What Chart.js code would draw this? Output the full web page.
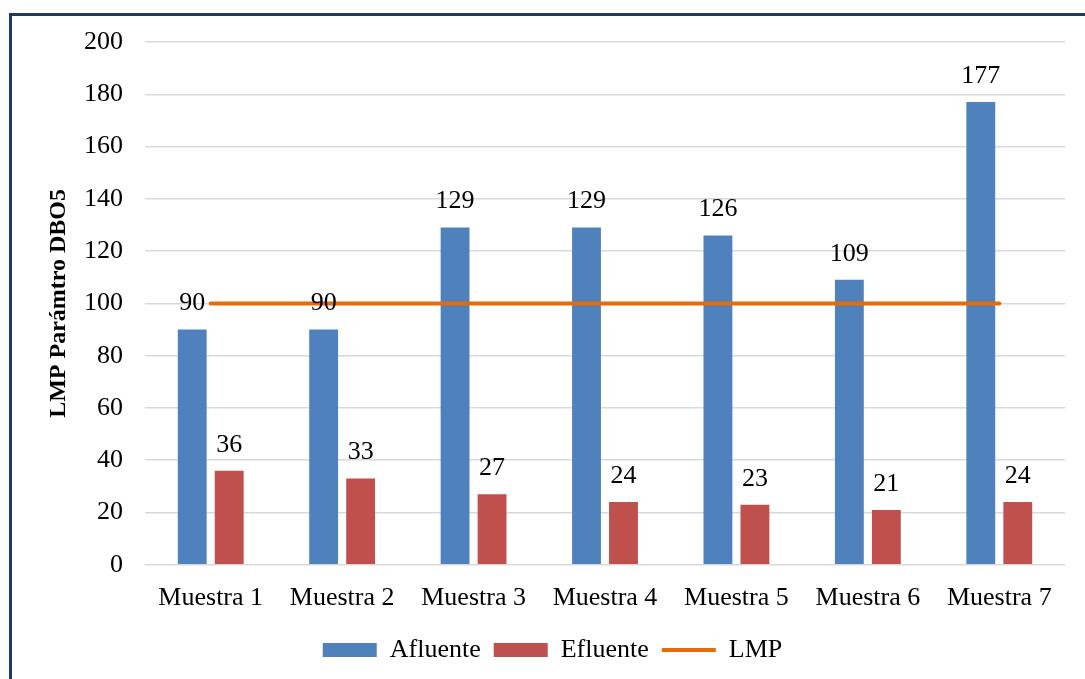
<!DOCTYPE html>
<html>
<head>
<meta charset="utf-8">
<script src="https://cdn.jsdelivr.net/npm/chart.js@4.4.1/dist/chart.umd.min.js"></script>
<style>
    html, body { margin: 0; padding: 0; background: #fff; overflow: hidden; }
    #wrap { position: relative; width: 1085px; height: 679px; }
    #frame {
        position: absolute; left: 9px; top: 13px;
        width: 1200px; height: 800px;
        border: 3px solid #1F3864; box-sizing: border-box;
    }
    #myChart { position: absolute; left: 0; top: 0; }
</style>
</head>
<body>
<div id="wrap">
    <div id="frame"></div>
    <canvas id="myChart" width="1085" height="679"></canvas>
</div>
<script>
// muestras y valores de DBO5
const muestras = ['Muestra 1', 'Muestra 2', 'Muestra 3', 'Muestra 4', 'Muestra 5', 'Muestra 6', 'Muestra 7'];
const afluente = [90, 90, 129, 129, 126, 109, 177];
const efluente = [36, 33, 27, 24, 23, 21, 24];
const lmp = [100, 100, 100, 100, 100, 100, 100];
const yTicks = [0, 20, 40, 60, 80, 100, 120, 140, 160, 180, 200];

const serif = "'Liberation Serif', 'Times New Roman', serif";

// etiquetas de valor encima de cada barra
const valueLabels = {
    id: 'valueLabels',
    afterDatasetsDraw(chart) {
        const ctx = chart.ctx;
        ctx.save();
        ctx.font = '26px ' + serif;
        ctx.fillStyle = '#000';
        ctx.textAlign = 'center';
        ctx.textBaseline = 'bottom';
        chart.data.datasets.forEach((ds, i) => {
            if (ds.type !== 'bar') return;
            chart.getDatasetMeta(i).data.forEach((bar, j) => {
                ctx.fillText(ds.data[j], bar.x, bar.y - 13);
            });
        });
        ctx.restore();
    }
};

new Chart("myChart", {
    data: {
        labels: muestras,
        datasets: [
            {
                type: 'bar',
                label: 'Afluente',
                data: afluente,
                backgroundColor: '#4F81BD',
                borderWidth: 0,
                categoryPercentage: 0.563,
                barPercentage: 0.78,
                order: 2
            },
            {
                type: 'bar',
                label: 'Efluente',
                data: efluente,
                backgroundColor: '#C0504D',
                borderWidth: 0,
                categoryPercentage: 0.563,
                barPercentage: 0.78,
                order: 2
            },
            {
                type: 'line',
                label: 'LMP',
                data: lmp,
                borderColor: '#E46C0A',
                backgroundColor: '#E46C0A',
                borderWidth: 4,
                borderCapStyle: 'round',
                pointRadius: 0,
                fill: false,
                order: 1
            }
        ]
    },
    options: {
        responsive: false,
        animation: false,
        layout: { padding: { left: 40, right: 20, top: 42, bottom: 6 } },
        scales: {
            x: {
                grid: { display: false },
                border: { display: false },
                ticks: { color: '#000', font: { family: serif, size: 26 }, padding: 10 }
            },
            y: {
                min: 0,
                max: 200,
                afterBuildTicks(axis) {
                    axis.ticks = yTicks.map(v => ({ value: v }));
                },
                afterFit(axis) {
                    axis.width = 105;
                },
                grid: { color: '#D9D9D9', lineWidth: 1.5, drawTicks: false },
                border: { display: false },
                ticks: { color: '#000', font: { family: serif, size: 26 }, padding: 22 },
                title: {
                    display: true,
                    text: 'LMP Parámtro DBO5',
                    color: '#000',
                    font: { family: serif, size: 24, weight: 'bold' },
                    padding: { top: 4, bottom: 0 }
                }
            }
        },
        plugins: {
            tooltip: { enabled: false },
            legend: {
                position: 'bottom',
                labels: {
                    color: '#000',
                    font: { family: serif, size: 26 },
                    usePointStyle: true,
                    pointStyleWidth: 54,
                    boxHeight: 14,
                    padding: 13,
                    sort: (a, b) => a.datasetIndex - b.datasetIndex,
                    generateLabels(chart) {
                        const items = Chart.defaults.plugins.legend.labels.generateLabels(chart);
                        items.forEach(it => {
                            const ds = chart.data.datasets[it.datasetIndex];
                            it.pointStyle = ds.type === 'line' ? 'line' : 'rect';
                            if (ds.type !== 'line') it.lineWidth = 0;
                        });
                        return items;
                    }
                }
            }
        }
    },
    plugins: [valueLabels]
});
</script>
</body>
</html>
